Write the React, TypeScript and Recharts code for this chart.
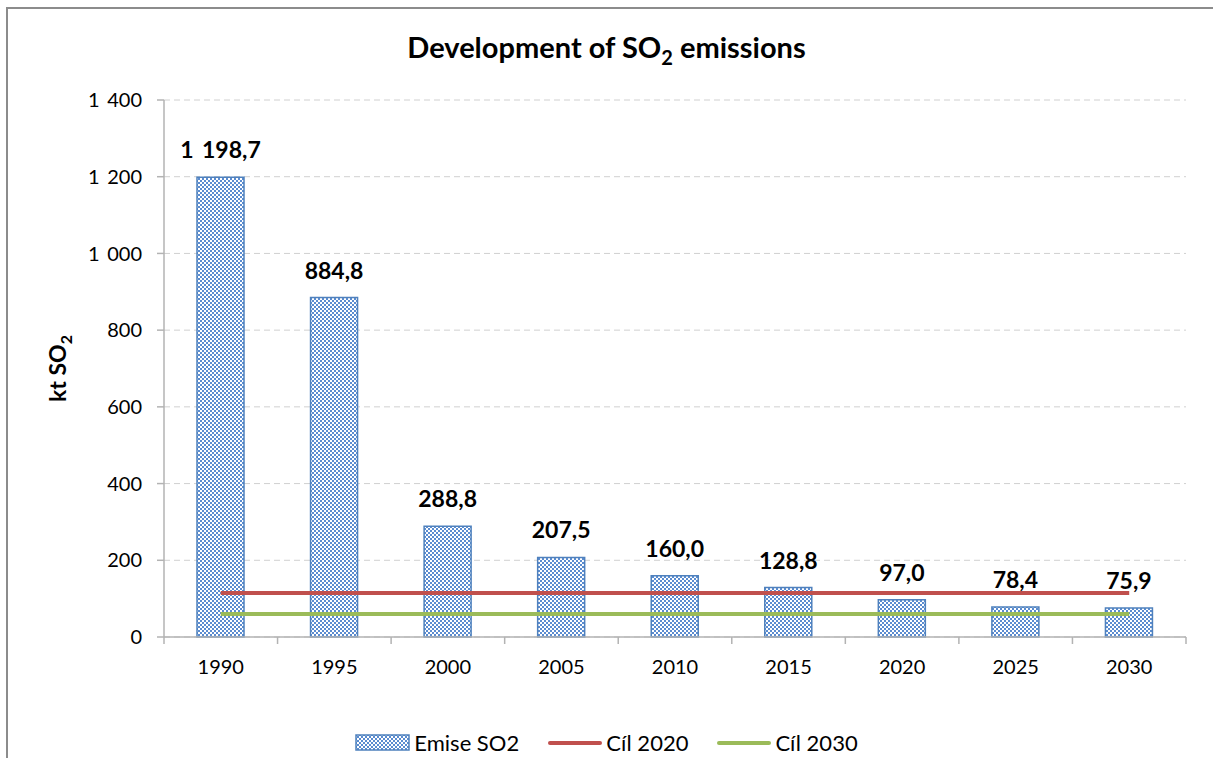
import React from "react";
import {
    ComposedChart,
    Bar,
    Line,
    XAxis,
    YAxis,
    CartesianGrid,
    LabelList,
    Legend,
    Label,
} from "recharts";

const years = ["1990", "1995", "2000", "2005", "2010", "2015", "2020", "2025", "2030"];
const emise = [1198.7, 884.8, 288.8, 207.5, 160.0, 128.8, 97.0, 78.4, 75.9];
const cil2020 = [115, 115, 115, 115, 115, 115, 115, 115, 115];
const cil2030 = [60, 60, 60, 60, 60, 60, 60, 60, 60];
const yTicks = [0, 200, 400, 600, 800, 1000, 1200, 1400];

const data = years.map((year, i) => ({
    year,
    emise: emise[i],
    cil2020: cil2020[i],
    cil2030: cil2030[i],
}));

const W = 1213;
const H = 758;
const MARGIN = { top: 100, right: 27, bottom: 61, left: 0 };
const Y_WIDTH = 164;
const BAND = (W - Y_WIDTH - MARGIN.right) / years.length;
const FONT = "Lato, 'Open Sans', sans-serif";
const BLUE = "#4f81bd";
const RED = "#c0504d";
const GREEN = "#9bbb59";
const GAP = "\u00a0\u2009"; // thousands separator, as in "1 198,7"

function fmt(v: number, digits: number) {
    const [int, dec] = v.toFixed(digits).split(".");
    const grouped = int.replace(/\B(?=(\d{3})+(?!\d))/g, GAP);
    return dec ? `${grouped},${dec}` : grouped;
}

function XTick(props: any) {
    const { x, y, payload, index } = props;
    const left = x - BAND / 2;
    return (
        <g>
            <line x1={left} y1={y - 8} x2={left} y2={y - 1} stroke="#b3b3b3" strokeWidth={1.5} />
            {index === years.length - 1 && (
                <line x1={left + BAND} y1={y - 8} x2={left + BAND} y2={y - 1} stroke="#b3b3b3" strokeWidth={1.5} />
            )}
            <text x={x} y={y + 29} textAnchor="middle" fontFamily={FONT} fontSize={20} fill="#000">
                {payload.value}
            </text>
        </g>
    );
}

function YLabel(props: any) {
    const vb = props.viewBox || {};
    const cy = (vb.y ?? 100) + (vb.height ?? 537) / 2;
    const cx = 66;
    return (
        <text
            transform={`translate(${cx},${cy}) rotate(-90)`}
            textAnchor="middle"
            fontFamily={FONT}
            fontWeight="bold"
            fontSize={23}
            fill="#000"
        >
            kt SO
            <tspan fontSize={16} dy={6}>2</tspan>
        </text>
    );
}

function ValueLabel(props: any) {
    const { x, y, width, value } = props;
    return (
        <text
            x={x + width / 2}
            y={y - 19}
            textAnchor="middle"
            fontFamily={FONT}
            fontWeight="bold"
            fontSize={23}
            fill="#000"
        >
            {fmt(Number(value), 1)}
        </text>
    );
}

function LegendContent() {
    return (
        <div style={{ display: "flex", alignItems: "center", justifyContent: "center", fontFamily: FONT, fontSize: 22, color: "#000" }}>
            <svg width={56} height={18} style={{ marginRight: 3 }}>
                <rect x={1} y={1} width={53} height={15} fill="url(#checker)" stroke={BLUE} strokeWidth={1.5} />
            </svg>
            <span style={{ marginRight: 28 }}>Emise SO2</span>
            <svg width={56} height={18} style={{ marginRight: 3 }}>
                <line x1={3} y1={9} x2={53} y2={9} stroke={RED} strokeWidth={4} strokeLinecap="round" />
            </svg>
            <span style={{ marginRight: 28 }}>Cíl 2020</span>
            <svg width={56} height={18} style={{ marginRight: 3 }}>
                <line x1={3} y1={9} x2={53} y2={9} stroke={GREEN} strokeWidth={4} strokeLinecap="round" />
            </svg>
            <span>Cíl 2030</span>
        </div>
    );
}

export default function App() {
    return (
        <div style={{ position: "absolute", left: 0, top: 0, width: W, height: H, background: "#fff", overflow: "hidden" }}>
            <div
                style={{
                    position: "absolute",
                    left: 6,
                    top: 7,
                    width: W,
                    height: H,
                    borderTop: "2px solid #8c8c8c",
                    borderLeft: "2px solid #8c8c8c",
                }}
            />
            <div
                style={{
                    position: "absolute",
                    left: 0,
                    top: 29,
                    width: W,
                    textAlign: "center",
                    fontFamily: FONT,
                    fontWeight: "bold",
                    fontSize: 29,
                    color: "#000",
                }}
            >
                Development of SO<sub style={{ fontSize: 20, verticalAlign: "-7px" }}>2</sub> emissions
            </div>
            <div style={{ position: "absolute", left: 0, top: 0 }}>
                <ComposedChart width={W} height={H} data={data} margin={MARGIN} barCategoryGap={(BAND - 47) / 2}>
                    <defs>
                        <pattern id="checker" width={4} height={4} patternUnits="userSpaceOnUse">
                            <rect width={4} height={4} fill="#ffffff" />
                            <rect x={0} y={0} width={2} height={2} fill="#5b8cd0" />
                            <rect x={2} y={2} width={2} height={2} fill="#5b8cd0" />
                        </pattern>
                    </defs>
                    <CartesianGrid vertical={false} stroke="#d0d0d0" strokeDasharray="6 4" />
                    <XAxis
                        dataKey="year"
                        height={30}
                        tickLine={false}
                        axisLine={{ stroke: "#b3b3b3", strokeWidth: 1.5 }}
                        tick={<XTick />}
                        interval={0}
                    />
                    <YAxis
                        width={Y_WIDTH}
                        domain={[0, 1400]}
                        ticks={yTicks}
                        tickFormatter={(v: number) => fmt(v, 0)}
                        tick={{ fontFamily: FONT, fontSize: 20, fill: "#000" }}
                        tickSize={7}
                        tickMargin={15}
                        tickLine={{ stroke: "#b3b3b3", strokeWidth: 1.5 }}
                        axisLine={{ stroke: "#b3b3b3", strokeWidth: 1.5 }}
                    >
                        <Label content={<YLabel />} />
                    </YAxis>
                    <Legend
                        content={<LegendContent />}
                        height={30}
                        wrapperStyle={{ position: "absolute", top: 729, left: 0, width: W }}
                    />
                    <Bar
                        dataKey="emise"
                        name="Emise SO2"
                        fill="url(#checker)"
                        stroke={BLUE}
                        strokeWidth={1.5}
                        barSize={47}
                        isAnimationActive={false}
                    >
                        <LabelList dataKey="emise" content={<ValueLabel />} />
                    </Bar>
                    <Line
                        dataKey="cil2020"
                        name="Cíl 2020"
                        stroke={RED}
                        strokeWidth={4}
                        dot={false}
                        activeDot={false}
                        isAnimationActive={false}
                    />
                    <Line
                        dataKey="cil2030"
                        name="Cíl 2030"
                        stroke={GREEN}
                        strokeWidth={4}
                        dot={false}
                        activeDot={false}
                        isAnimationActive={false}
                    />
                </ComposedChart>
            </div>
        </div>
    );
}
